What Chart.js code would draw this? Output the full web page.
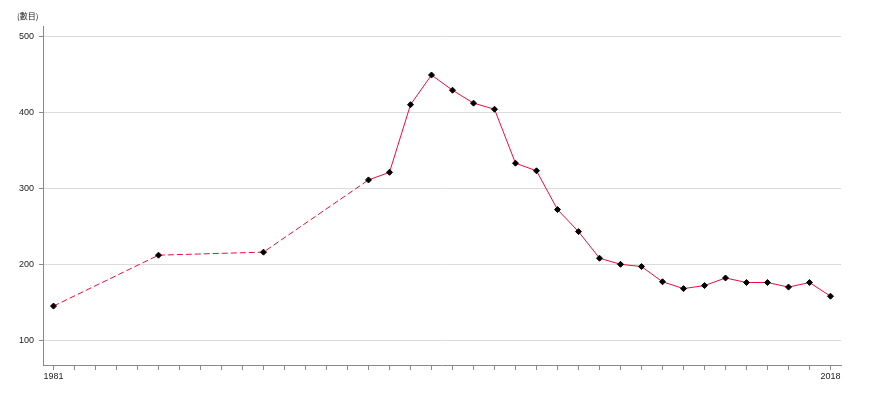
<!DOCTYPE html>
<html>
<head>
<meta charset="utf-8">
<script src="https://cdn.jsdelivr.net/npm/chart.js@4"></script>
<style>
	html, body { margin: 0; padding: 0; background: #fff; }
	canvas { display: block; }
</style>
</head>
<body>
<canvas id="chart" width="870" height="400"></canvas>
<script>
// data
const years = [ 1981, 1986, 1991, 1996, 1997, 1998, 1999, 2000, 2001, 2002, 2003, 2004, 2005, 2006, 2007, 2008, 2009, 2010, 2011, 2012, 2013, 2014, 2015, 2016, 2017, 2018 ];
const counts = [ 145, 212, 216, 311, 321, 410, 449, 429, 412, 404, 333, 323, 272, 243, 208, 200, 197, 177, 168, 172, 182, 176, 176, 170, 176, 158 ];
const xTickYears = [];
for ( let y = 1981; y <= 2018; y++ ) {
	xTickYears.push( y );
}
const xLabelYears = [ 1981, 2018 ];
const yTicks = [ 100, 200, 300, 400, 500 ];
const unitLabel = '(數目)';
// first segments (until 1996) are dashed
const dashedUntil = 3;

const axisColor = '#8a8a8a';
const font = { family: '"Liberation Sans Narrow", "Liberation Sans"', size: 9 };

const unitPlugin = {
	id: 'unitLabel',
	afterDraw( chart ) {
		const ctx = chart.ctx;
		ctx.save();
		ctx.font = '8px "Noto Sans CJK TC", "Liberation Sans"';
		ctx.fillStyle = '#222';
		ctx.textBaseline = 'middle';
		ctx.textAlign = 'left';
		ctx.fillText( unitLabel, 17, 16 );
		ctx.restore();
	},
};

new Chart( document.getElementById( 'chart' ), {
	type: 'line',
	data: {
		datasets: [
			{
				data: years.map( ( y, i ) => ( { x: y, y: counts[ i ] } ) ),
				borderColor: '#f00a3c',
				borderWidth: 1,
				tension: 0,
				pointStyle: 'rectRot',
				pointRadius: 3,
				pointBackgroundColor: '#000',
				pointBorderColor: '#000',
				pointBorderWidth: 1,
				segment: {
					borderDash: ( ctx ) => ( ctx.p1DataIndex <= dashedUntil ? [ 6, 3 ] : undefined ),
				},
			},
		],
	},
	options: {
		responsive: false,
		animation: false,
		layout: {
			padding: { top: 26, right: 29, left: 0, bottom: 0 },
		},
		plugins: {
			legend: { display: false },
			tooltip: { enabled: false },
		},
		scales: {
			x: {
				type: 'linear',
				min: 1980.5,
				max: 2018.5,
				afterBuildTicks( scale ) {
					scale.ticks = xTickYears.map( ( v ) => ( { value: v } ) );
				},
				afterFit( scale ) {
					scale.height = 35;
				},
				grid: {
					drawOnChartArea: false,
					drawTicks: true,
					tickLength: 5,
					tickColor: axisColor,
				},
				border: { color: axisColor },
				ticks: {
					autoSkip: false,
					maxRotation: 0,
					padding: 1,
					color: '#222',
					font,
					callback: ( v ) => ( xLabelYears.includes( v ) ? String( v ) : '' ),
				},
			},
			y: {
				min: 67.5,
				max: 513.5,
				afterBuildTicks( scale ) {
					scale.ticks = yTicks.map( ( v ) => ( { value: v } ) );
				},
				afterFit( scale ) {
					scale.width = 43;
				},
				grid: {
					color: '#dcdcdc',
					tickLength: 4,
					tickColor: axisColor,
				},
				border: { color: axisColor },
				ticks: {
					padding: 5,
					color: '#222',
					font,
				},
			},
		},
	},
	plugins: [ unitPlugin ],
} );
</script>
</body>
</html>
